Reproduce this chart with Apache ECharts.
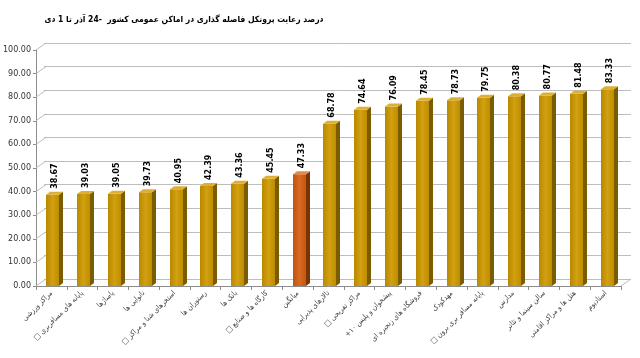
<!DOCTYPE html>
<html>
<head>
<meta charset="utf-8">
<script src="https://cdn.jsdelivr.net/npm/echarts@6/dist/echarts.min.js"></script>
<style>html,body{margin:0;padding:0;background:#fff}#c{width:640px;height:358px}</style>
</head>
<body>
<div id="c"></div>
<script>
const titleText = 'درصد رعایت پروتکل فاصله گذاری در اماکن عمومی کشور  -24 آذر تا 1 دی';
const categories = [
  'مراکز ورزشی',
  'پایانه های مسافربری □',
  'پاساژها',
  'نانوایی ها',
  'استخرهای شنا و مراکز □',
  'رستوران ها',
  'بانک ها',
  'کارگاه ها و صنایع □',
  'میانگین',
  'تالارهای پذیرایی',
  'مراکز تفریحی □',
  'پیشخوان و پلیس ۱۰+',
  'فروشگاه های زنجیره ای',
  'مهدکودک',
  'پایانه مسافر بری برون □',
  'مدارس',
  'سالن سینما و تئاتر',
  'هتل ها و مراکز اقامتی',
  'استادیوم'
];
const values = [38.67, 39.03, 39.05, 39.73, 40.95, 42.39, 43.36, 45.45, 47.33, 68.78, 74.64, 76.09, 78.45, 78.73, 79.75, 80.38, 80.77, 81.48, 83.33];
const yTicks = [0, 10, 20, 30, 40, 50, 60, 70, 80, 90, 100];
const highlightCategory = 'میانگین';

const RLM = '\u200F';
const FONT = 'DejaVu Sans';
const CFONT = '"DejaVu Sans Condensed", "DejaVu Sans"';
const DX = 10, DY = -7;

const chart = echarts.init(document.getElementById('c'), null, {renderer: 'canvas'});

const gold = {front: new echarts.graphic.LinearGradient(0,0,1,0,[{offset:0,color:'#B88900'},{offset:0.5,color:'#D2A010'},{offset:1,color:'#BE8E00'}]), side:'#7C5C00', top:'#DDB035'};
const orange = {front: new echarts.graphic.LinearGradient(0,0,1,0,[{offset:0,color:'#BE5210'},{offset:0.5,color:'#D86A20'},{offset:1,color:'#C45812'}]), side:'#7A3406', top:'#E58A45'};

chart.setOption({
  animation: false,
  backgroundColor: '#fff',
  graphic: [{
    type: 'text', x: 184, y: 20,
    style: {text: '\u202B' + titleText + '\u202C', font: 'bold 8.5px ' + CFONT, fill: '#000', align: 'center', verticalAlign: 'middle'}
  }],
  grid: [
    {left: 34, right: 19, top: 50, bottom: 72},
    {left: 44, right: 9, top: 43, bottom: 79}
  ],
  xAxis: [
    {type: 'category', gridIndex: 0, data: categories.map(c => c + RLM), boundaryGap: true,
     axisLine: {lineStyle: {color: '#8c8c8c'}},
     axisTick: {show: true, length: 4, alignWithLabel: false, lineStyle: {color: '#8c8c8c'}},
     axisLabel: {interval: 0, rotate: 45, fontSize: 7.5, color: '#444', fontFamily: CFONT, margin: 6}},
    {type: 'category', gridIndex: 1, data: categories, show: false}
  ],
  yAxis: [
    {type: 'value', gridIndex: 0, min: 0, max: 100, interval: 10,
     axisLine: {show: true, lineStyle: {color: '#8c8c8c'}},
     axisTick: {show: true, length: 3, lineStyle: {color: '#8c8c8c'}},
     splitLine: {show: false},
     axisLabel: {fontSize: 8, color: '#333', fontFamily: FONT, margin: 5, formatter: v => v.toFixed(2)}},
    {type: 'value', gridIndex: 1, min: 0, max: 100, interval: 10,
     axisLine: {show: false}, axisTick: {show: false}, axisLabel: {show: false},
     splitLine: {show: true, lineStyle: {color: '#bdbdbd', width: 1}}}
  ],
  series: [
    {
      type: 'custom', xAxisIndex: 0, yAxisIndex: 0, silent: true,
      data: yTicks.map(t => [0, t]),
      renderItem: function (params, api) {
        const cs = params.coordSys;
        const t = api.value(1);
        const y = api.coord([0, t])[1];
        const ch = [{type: 'line', shape: {x1: cs.x, y1: y, x2: cs.x + DX, y2: y + DY}, style: {stroke: '#bdbdbd', lineWidth: 1}}];
        if (t === 0) {
          ch.push({type: 'line', shape: {x1: cs.x + cs.width, y1: y, x2: cs.x + cs.width + DX, y2: y + DY}, style: {stroke: '#bdbdbd', lineWidth: 1}});
        }
        return {type: 'group', children: ch};
      }
    },
    {
      type: 'custom', xAxisIndex: 0, yAxisIndex: 0, silent: true,
      data: values.map((v, i) => [i, v]),
      renderItem: function (params, api) {
        const idx = api.value(0);
        const v = api.value(1);
        const top = api.coord([idx, v]);
        const base = api.coord([idx, 0]);
        const c = categories[idx] === highlightCategory ? orange : gold;
        const w = 13, d = 4, h = 3;
        const x0 = Math.round(top[0] - 5), x1 = x0 + w;
        const ty = top[1], by = base[1];
        return {type: 'group', children: [
          {type: 'polygon', shape: {points: [[x1, ty], [x1 + d, ty - h], [x1 + d, by - h], [x1, by]]}, style: {fill: c.side}},
          {type: 'rect', shape: {x: x0, y: ty, width: w, height: by - ty}, style: {fill: c.front}},
          {type: 'polygon', shape: {points: [[x0, ty], [x0 + d, ty - h], [x1 + d, ty - h], [x1, ty]]}, style: {fill: c.top}},
          {type: 'text', x: x0 + 9, y: ty - h - 3, rotation: Math.PI / 2,
           style: {text: v.toFixed(2), font: 'bold 8px ' + FONT, fill: '#000', align: 'left', verticalAlign: 'middle'}}
        ]};
      }
    }
  ]
});
</script>
</body>
</html>
